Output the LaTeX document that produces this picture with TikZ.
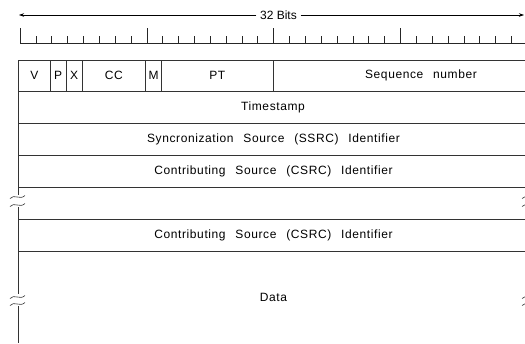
\documentclass[tikz,border=0pt]{standalone}
\usepackage{fontspec}
\setmainfont{Liberation Sans}
\newfontfamily\bodyfont[LetterSpace=5,WordSpace=2.5]{Liberation Sans}
\usetikzlibrary{arrows.meta}
\begin{document}
\begin{tikzpicture}[x=1pt,y=-1pt,
  rule/.style={draw=black!80,line width=0.7pt},
  tick/.style={draw=black!85,line width=0.6pt},
  lbl/.style={font=\bodyfont\fontsize{12}{14}\selectfont,inner sep=0pt,text=black},
  bitslbl/.style={font=\fontsize{12}{14}\selectfont,inner sep=3.5pt,text=black},
  arr/.style={draw=black,line width=0.6pt,-{Stealth[length=5pt,width=3.5pt]}}]
\useasboundingbox (0,0) rectangle (525,343);
\clip (0,0) rectangle (525,343);
% top arrow
\coordinate (la) at (19,15);
\coordinate (ra) at (524,15);
\node[bitslbl] (bits) at (278.5,15) {32 Bits};
\draw[arr] (bits.west) -- (la);
\draw[arr] (bits.east) -- (ra);
% ruler
\draw[tick] (20,43.3) -- (530,43.3);
\foreach \i in {0,...,32}{
  \pgfmathsetmacro{\xx}{20+\i*15.85}
  \pgfmathtruncatemacro{\m}{mod(\i,8)}
  \ifnum\m=0
    \draw[tick] (\xx,43.3) -- (\xx,28);
  \else
    \draw[tick] (\xx,43.3) -- (\xx,36);
  \fi
}
% rows
\foreach \y in {60,91.5,123,155,187,219,251}{
  \draw[rule] (18,\y) -- (530,\y);
}
% left vertical with breaks
\draw[rule] (18,60) -- (18,195);
\draw[rule] (18,207) -- (18,294);
\draw[rule] (18,306) -- (18,343);
\draw[rule] (529,60) -- (529,195);
% squiggles
\foreach \y in {197,205,297,304}{
  \draw[rule,line width=0.6pt] (10,\y+1.5) .. controls (14,\y-3.5) and (20,\y+3.5) .. (25,\y-1.5);
  \draw[rule,line width=0.6pt] (522,\y+1.5) .. controls (526,\y-3.5) and (532,\y+3.5) .. (537,\y-1.5);
}
% header dividers
\foreach \b in {2,3,4,8,9,16}{
  \pgfmathsetmacro{\xx}{18.5+\b*15.9}
  \draw[rule] (\xx,60) -- (\xx,91.5);
}
% header labels
\node[lbl] (v) at (34.4,75.5) {V};
\node[lbl] (p) at (58.2,75.5) {P};
\node[lbl] (x) at (74.1,75.5) {X};
\node[lbl] (cc) at (113.9,75.5) {CC};
\node[lbl] (m) at (153.6,75.5) {M};
\node[lbl] (pt) at (217.3,75.5) {PT};
\node[lbl] (seq) at (421,75.5) {Sequence number};
\node[lbl] (ts) at (273,107.3) {Timestamp};
\node[lbl] (ssrc) at (273.5,139) {Syncronization Source (SSRC) Identifier};
\node[lbl] (csrc1) at (273.5,171) {Contributing Source (CSRC) Identifier};
\node[lbl] (csrc2) at (273.5,235) {Contributing Source (CSRC) Identifier};
\node[lbl] (data) at (273.5,297) {Data};
\end{tikzpicture}
\end{document}
